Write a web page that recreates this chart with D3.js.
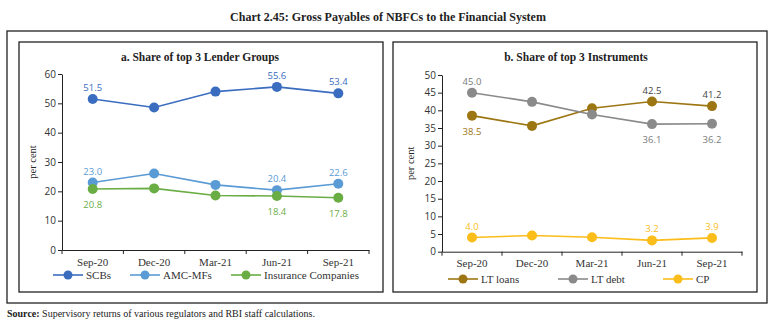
<!DOCTYPE html>
<html>
<head>
<meta charset="utf-8">
<script src="https://cdn.jsdelivr.net/npm/d3@7"></script>
<style>
  body { margin: 0; background: #fff; }
  svg { display: block; }
  .serif { font-family: "Liberation Serif", "DejaVu Serif", serif; }
  .sans { font-family: "Open Sans", "DejaVu Sans", sans-serif; }
</style>
</head>
<body>
<svg id="chart" width="776" height="324"></svg>
<script>
const categories = ["Sep-20", "Dec-20", "Mar-21", "Jun-21", "Sep-21"];

// panel a
const scbs = [51.5, 48.6, 54.0, 55.6, 53.4];
const amcMfs = [23.0, 26.1, 22.2, 20.4, 22.6];
const insurance = [20.8, 21.0, 18.6, 18.4, 17.8];
const ticksA = [0, 10, 20, 30, 40, 50, 60];

// panel b
const ltLoans = [38.5, 35.6, 40.6, 42.5, 41.2];
const ltDebt = [45.0, 42.4, 38.8, 36.1, 36.2];
const cp = [4.0, 4.6, 4.1, 3.2, 3.9];
const ticksB = [0, 5, 10, 15, 20, 25, 30, 35, 40, 45, 50];

const svg = d3.select("#chart");
const g = svg.append("g");

// frames
g.append("rect").attr("x", 7).attr("y", 31).attr("width", 760).attr("height", 272)
  .attr("fill", "none").attr("stroke", "#222").attr("stroke-width", 1.3);
g.append("rect").attr("x", 19).attr("y", 42).attr("width", 364).attr("height", 250)
  .attr("fill", "none").attr("stroke", "#222").attr("stroke-width", 1.3);
g.append("rect").attr("x", 393).attr("y", 42).attr("width", 364).attr("height", 250)
  .attr("fill", "none").attr("stroke", "#222").attr("stroke-width", 1.3);

g.append("text").attr("class", "serif")
  .attr("x", 388).attr("y", 21).attr("text-anchor", "middle")
  .attr("font-size", 12).attr("font-weight", "bold").attr("fill", "#222")
  .text("Chart 2.45: Gross Payables of NBFCs to the Financial System");

const src = g.append("text").attr("class", "serif")
  .attr("x", 7).attr("y", 317).attr("font-size", 10).attr("fill", "#222");
src.append("tspan").attr("font-weight", "bold").text("Source:");
src.append("tspan").text(" Supervisory returns of various regulators and RBI staff calculations.");

function draw_panel(p) {
  const x = d3.scaleBand().domain(categories).range([p.x0, p.x1]);
  const y = d3.scaleLinear().domain([0, p.ymax]).range([p.y0, p.y1]);

  g.append("text").attr("class", "serif")
    .attr("x", p.titleX).attr("y", 61).attr("text-anchor", "middle")
    .attr("font-size", 11.5).attr("font-weight", "bold").attr("fill", "#222")
    .text(p.title);

  // y axis
  const ya = g.append("g").attr("transform", `translate(${p.x0},0)`)
    .call(d3.axisLeft(y).tickValues(p.ticks).tickSize(4).tickSizeOuter(0).tickPadding(2));
  ya.select(".domain").attr("stroke", "#222");
  ya.selectAll(".tick line").attr("stroke", "#222");
  ya.selectAll(".tick text").attr("class", "sans").attr("font-size", 10).attr("fill", "#333");

  // x axis
  const xa = g.append("g").attr("transform", `translate(0,${p.y0})`)
    .call(d3.axisBottom(x).tickSize(0).tickPadding(8));
  xa.select(".domain").attr("stroke", "#222");
  xa.selectAll(".tick text").attr("class", "serif").attr("font-size", 11)
    .attr("font-weight", "normal").attr("fill", "#333");
  xa.selectAll(".bound").data(categories.concat([null])).enter().append("line")
    .attr("x1", (d, i) => p.x0 + i * x.step()).attr("x2", (d, i) => p.x0 + i * x.step())
    .attr("y1", 0).attr("y2", 4).attr("stroke", "#222");

  g.append("text").attr("class", "serif")
    .attr("transform", `translate(${p.labelX},${(p.y0 + p.y1) / 2}) rotate(-90)`)
    .attr("text-anchor", "middle").attr("font-size", 10.5).attr("fill", "#222")
    .text("per cent");

  const line = d3.line().x((d, i) => x(categories[i]) + x.bandwidth() / 2).y(d => y(d));

  p.series.forEach(s => {
    g.append("path").attr("d", line(s.values)).attr("fill", "none")
      .attr("stroke", s.color).attr("stroke-width", 1.6);
    g.selectAll(null).data(s.values).enter().append("circle")
      .attr("cx", (d, i) => x(categories[i]) + x.bandwidth() / 2)
      .attr("cy", d => y(d)).attr("r", 5).attr("fill", s.color);
    s.labels.forEach(([i, pos, col]) => {
      g.append("text").attr("class", "sans")
        .attr("x", x(categories[i]) + x.bandwidth() / 2)
        .attr("y", y(s.values[i]) + (pos === "above" ? -8 : 19))
        .attr("text-anchor", "middle").attr("font-size", 9.5)
        .attr("fill", col || s.labelColor)
        .text(s.values[i].toFixed(1));
    });
  });

  // legend
  p.series.forEach((s, k) => {
    const lx = p.legendX[k];
    g.append("line").attr("x1", lx).attr("x2", lx + 30)
      .attr("y1", p.legendY).attr("y2", p.legendY)
      .attr("stroke", s.color).attr("stroke-width", 1.6);
    g.append("circle").attr("cx", lx + 15).attr("cy", p.legendY).attr("r", 4.5).attr("fill", s.color);
    g.append("text").attr("class", "serif")
      .attr("x", lx + 33).attr("y", p.legendY + 3.5)
      .attr("font-size", 11).attr("fill", "#333").text(s.name);
  });
}

draw_panel({
  title: "a. Share of top 3 Lender Groups", titleX: 200,
  x0: 62, x1: 369, y0: 250, y1: 74, ymax: 60, ticks: ticksA, labelX: 36,
  legendY: 275, legendX: [53, 130, 231],
  series: [
    { name: "SCBs", values: scbs, color: "#3a6cc0", labelColor: "#3a6cc0",
      labels: [[0, "above"], [3, "above"], [4, "above"]] },
    { name: "AMC-MFs", values: amcMfs, color: "#5b9bd5", labelColor: "#5b9bd5",
      labels: [[0, "above"], [3, "above"], [4, "above"]] },
    { name: "Insurance Companies", values: insurance, color: "#6aad45", labelColor: "#6aad45",
      labels: [[0, "below"], [3, "below"], [4, "below"]] }
  ]
});

draw_panel({
  title: "b. Share of top 3 Instruments", titleX: 576,
  x0: 442, x1: 742, y0: 251.7, y1: 75, ymax: 50, ticks: ticksB, labelX: 414,
  legendY: 279, legendX: [448, 558, 663],
  series: [
    { name: "LT loans", values: ltLoans, color: "#9c7612", labelColor: "#9c7612",
      labels: [[0, "below"], [3, "above", "#444"], [4, "above", "#444"]] },
    { name: "LT debt", values: ltDebt, color: "#8a8a8a", labelColor: "#7a7a7a",
      labels: [[0, "above"], [3, "below"], [4, "below"]] },
    { name: "CP", values: cp, color: "#fbbd1a", labelColor: "#fbbd1a",
      labels: [[0, "above"], [3, "above"], [4, "above"]] }
  ]
});
</script>
</body>
</html>
